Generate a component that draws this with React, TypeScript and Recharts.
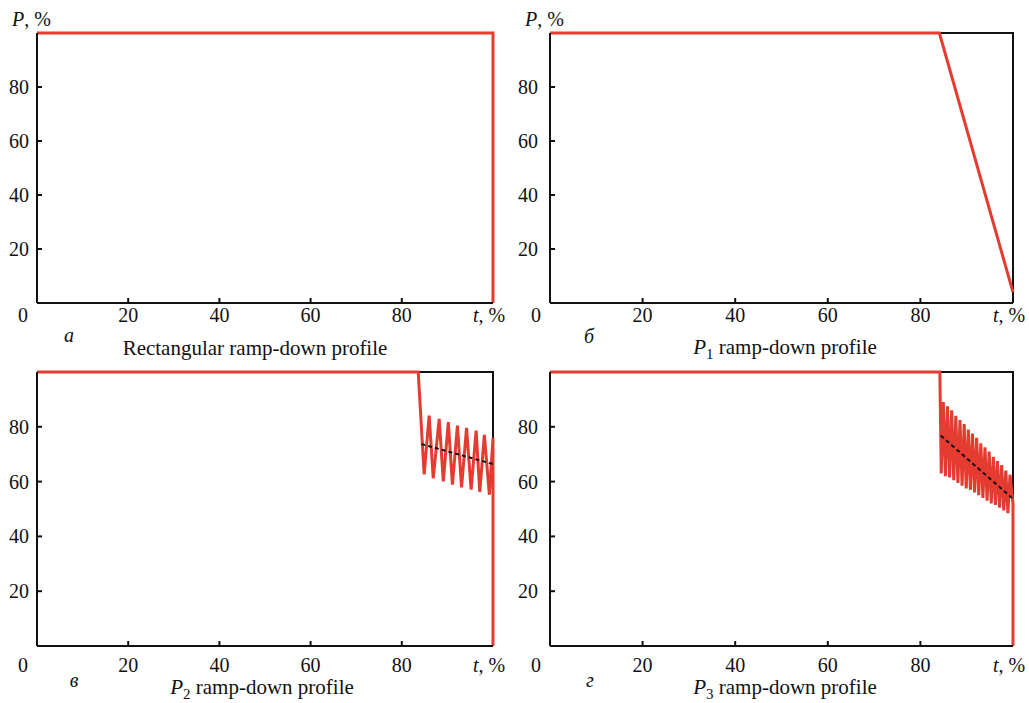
import { LineChart, Line, XAxis, YAxis } from 'recharts';

const RED = '#e53b30';
const INK = '#111111';
const FONT = '"Liberation Serif", "Times New Roman", serif';

const xTicks = [0, 20, 40, 60, 80, 100];
const yTicks = [20, 40, 60, 80];

// black box (top + right edges)
const frameT = [0, 100, 100];
const frameP = [100, 100, 0];

// a: rectangular
const rectT = [0, 100, 100];
const rectP = [100, 100, 0];

// б: P1 linear ramp
const p1T = [0, 84.1, 100];
const p1P = [100, 100, 4];

// в: P2 oscillating
const p2T = [0, 83.6, 84.9, 86.0, 86.9, 88.2, 89.1, 90.2, 91.1, 92.2, 93.1, 94.2, 95.2, 96.3, 97.1, 98.1, 99.2, 100, 100];
const p2P = [100, 100, 62.6, 84.1, 61.2, 82.9, 60.1, 81.7, 58.9, 80.4, 57.9, 79.6, 57.1, 78.6, 56.2, 77.1, 55.2, 76, 0];
const p2TrendT = [84.3, 100];
const p2TrendP = [73.7, 66.4];

// г: P3 fast oscillating
const p3T = [
  0, 84.2, 84.5, 84.95, 85.4, 85.85, 86.3, 86.75, 87.2, 87.65, 88.1, 88.55, 89.0, 89.45, 89.9, 90.35, 90.8,
  91.25, 91.7, 92.15, 92.6, 93.05, 93.5, 93.95, 94.4, 94.85, 95.3, 95.75, 96.2, 96.65, 97.1, 97.55, 98.0,
  98.45, 98.9, 99.35, 100, 100,
];
const p3P = [
  100, 100, 63, 89, 62, 87.5, 61.5, 86, 60.5, 84, 59.5, 82.5, 58.5, 81, 57.5, 79, 57, 77.5, 56, 76, 55, 74,
  54, 72.5, 53, 71, 52, 69, 51.5, 67.5, 50.5, 66, 49.5, 64, 48.5, 62.5, 52, 0,
];
const p3TrendT = [84.4, 99.8];
const p3TrendP = [76.8, 54];

const pts = (t: number[], p: number[]) => t.map((v, i) => ({ t: v, p: p[i] }));

function XTick(props: any) {
  const { x, y, payload, dy } = props;
  const v = payload.value;
  const style = { fontSize: 20, fontFamily: FONT, fill: INK };
  if (v === 0) {
    return (
      <text x={x - 14} y={y + dy} textAnchor="middle" style={style}>
        0
      </text>
    );
  }
  if (v === 100) {
    return (
      <text x={x - 4} y={y + dy} textAnchor="middle" style={style}>
        <tspan fontStyle="italic">t</tspan>, %
      </text>
    );
  }
  return (
    <g>
      <line x1={x} x2={x} y1={y} y2={y - 5} stroke={INK} strokeWidth={2} />
      <text x={x} y={y + dy} textAnchor="middle" style={style}>
        {v}
      </text>
    </g>
  );
}

function YTick(props: any) {
  const { x, y, payload, gap } = props;
  return (
    <g>
      <line x1={x} x2={x + 5} y1={y} y2={y} stroke={INK} strokeWidth={2} />
      <text x={x - gap} y={y + 7} textAnchor="end" style={{ fontSize: 20, fontFamily: FONT, fill: INK }}>
        {payload.value}
      </text>
    </g>
  );
}

interface PanelProps {
  left: number;
  top: number;
  width: number;
  height: number;
  marginTop: number;
  marginRight: number;
  xHeight: number;
  labelDy: number;
  yGap: number;
  profile: { t: number; p: number }[];
  trend?: { t: number; p: number }[];
}

function Panel({ left, top, width, height, marginTop, marginRight, xHeight, labelDy, yGap, profile, trend }: PanelProps) {
  return (
    <div style={{ position: 'absolute', left, top }}>
      <LineChart width={width} height={height} margin={{ top: marginTop, right: marginRight, bottom: 0, left: 0 }}>
        <XAxis
          type="number"
          dataKey="t"
          domain={[0, 100]}
          ticks={xTicks}
          interval={0}
          height={xHeight}
          tickSize={0}
          tickMargin={0}
          tickLine={false}
          axisLine={{ stroke: INK, strokeWidth: 2 }}
          tick={(p: any) => <XTick {...p} dy={labelDy} />}
        />
        <YAxis
          type="number"
          dataKey="p"
          domain={[0, 100]}
          ticks={yTicks}
          interval={0}
          width={37}
          tickSize={0}
          tickMargin={0}
          tickLine={false}
          axisLine={{ stroke: INK, strokeWidth: 2 }}
          tick={(p: any) => <YTick {...p} gap={yGap} />}
        />
        <Line
          data={pts(frameT, frameP)}
          dataKey="p"
          type="linear"
          stroke={INK}
          strokeWidth={2}
          dot={false}
          activeDot={false}
          isAnimationActive={false}
        />
        <Line
          data={profile}
          dataKey="p"
          type="linear"
          stroke={RED}
          strokeWidth={3}
          strokeLinejoin="miter"
          dot={false}
          activeDot={false}
          isAnimationActive={false}
        />
        {trend && (
          <Line
            data={trend}
            dataKey="p"
            type="linear"
            stroke={INK}
            strokeWidth={2}
            strokeDasharray="4 3"
            dot={false}
            activeDot={false}
            isAnimationActive={false}
          />
        )}
      </LineChart>
    </div>
  );
}

function Caption({ x, y, sub, text }: { x: number; y: number; sub?: string; text: string }) {
  return (
    <text x={x} y={y} textAnchor="middle" style={{ fontSize: 21, fontFamily: FONT, fill: INK }}>
      {sub && <tspan fontStyle="italic">P</tspan>}
      {sub && (
        <tspan dy={5} fontSize={15}>
          {sub}
        </tspan>
      )}
      <tspan dy={sub ? -5 : 0}>{sub ? ' ' + text : text}</tspan>
    </text>
  );
}

export default function App() {
  const lbl = { fontSize: 20, fontFamily: FONT, fill: INK };
  return (
    <div style={{ position: 'absolute', left: 0, top: 0, width: 1029, height: 703, background: '#fff' }}>
      <Panel left={0} top={0} width={515} height={345} marginTop={33} marginRight={22} xHeight={42} labelDy={19} yGap={8}
        profile={pts(rectT, rectP)} />
      <Panel left={513} top={0} width={516} height={345} marginTop={33} marginRight={16} xHeight={42} labelDy={19} yGap={12}
        profile={pts(p1T, p1P)} />
      <Panel left={0} top={340} width={515} height={363} marginTop={32} marginRight={22} xHeight={57} labelDy={26} yGap={8}
        profile={pts(p2T, p2P)} trend={pts(p2TrendT, p2TrendP)} />
      <Panel left={513} top={340} width={516} height={363} marginTop={32} marginRight={16} xHeight={57} labelDy={26} yGap={12}
        profile={pts(p3T, p3P)} trend={pts(p3TrendT, p3TrendP)} />
      <svg width={1029} height={703} style={{ position: 'absolute', left: 0, top: 0, pointerEvents: 'none' }}>
        <text x={12} y={26} style={lbl}>
          <tspan fontStyle="italic">P</tspan>, %
        </text>
        <text x={525} y={26} style={lbl}>
          <tspan fontStyle="italic">P</tspan>, %
        </text>
        <text x={69} y={342} textAnchor="middle" fontStyle="italic" style={lbl}>а</text>
        <text x={589} y={343} textAnchor="middle" fontStyle="italic" style={lbl}>б</text>
        <text x={74} y={687} textAnchor="middle" fontStyle="italic" style={lbl}>в</text>
        <text x={590} y={687} textAnchor="middle" fontStyle="italic" style={lbl}>г</text>
        <Caption x={255} y={355} text="Rectangular ramp-down profile" />
        <Caption x={785} y={354} sub="1" text="ramp-down profile" />
        <Caption x={262} y={694} sub="2" text="ramp-down profile" />
        <Caption x={785} y={694} sub="3" text="ramp-down profile" />
      </svg>
    </div>
  );
}
